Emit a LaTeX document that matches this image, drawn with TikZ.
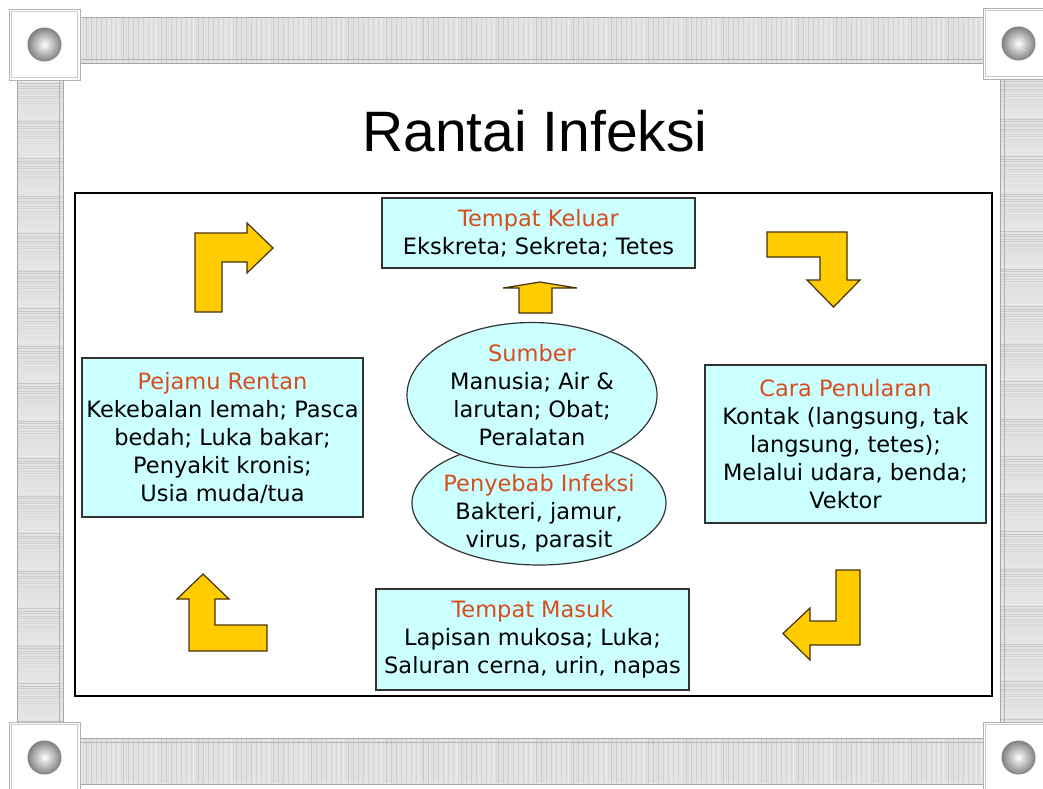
\documentclass[tikz,border=0pt]{standalone}
\usepackage{fontspec}
\setmainfont{DejaVu Sans}
\newfontfamily\judulfont{Liberation Sans}
\usetikzlibrary{shapes.geometric}
\definecolor{kotakbiru}{RGB}{204,255,255}
\definecolor{judulmerah}{RGB}{214,78,30}
\definecolor{panahkuning}{RGB}{255,204,0}
\definecolor{panahgaris}{RGB}{70,50,10}
\tikzset{
teks/.style={align=center,inner sep=0,font=\fontsize{22.5}{28}\selectfont},
kotak/.style={teks,draw=black!80,line width=2,fill=kotakbiru},
oval/.style={teks,ellipse,draw=black!80,line width=1.2,fill=kotakbiru},
panah/.style={draw=panahgaris,line width=1.2,fill=panahkuning,line join=miter},
pojok/.style={draw=black!30,line width=1,fill=white},
lajur/.style={draw=black!35,line width=0.8},
}
\newcommand{\judul}[1]{\textcolor{judulmerah}{#1}}

\begin{document}
\begin{tikzpicture}[x=1pt,y=-1pt]
\useasboundingbox (0,0) rectangle (1043,788);
\fill[white] (0,0) rectangle (1043,788);
\fill[black!11] (80,17) rectangle (983,63);
\fill[black!11] (80,738) rectangle (983,784);
\fill[black!11] (17,80) rectangle (63,722);
\fill[black!11] (1000,78) rectangle (1046,722);
\foreach \i in {0,...,360}{
\pgfmathtruncatemacro\warna{8+mod(\i*37,15)}
\draw[black!\warna,line width=0.9] ({81+2.5*\i},18) -- ({81+2.5*\i},62);
\draw[black!\warna,line width=0.9] ({81+2.5*\i},739) -- ({81+2.5*\i},783);
}
\foreach \i in {0,...,256}{
\pgfmathtruncatemacro\warna{8+mod(\i*29,15)}
\draw[black!\warna,line width=0.9] (18,{81+2.5*\i}) -- (62,{81+2.5*\i});
\draw[black!\warna,line width=0.9] (1001,{79+2.5*\i}) -- (1045,{79+2.5*\i});
}
\draw[lajur] (80,17) rectangle (983,63);
\draw[lajur] (80,738) rectangle (983,784);
\draw[lajur] (17,80) rectangle (63,722);
\draw[lajur] (1000,78) rectangle (1046,722);
\draw[black!30] (80,59) -- (983,59);
\draw[black!30] (80,742) -- (983,742);
\draw[black!30] (59,80) -- (59,722);
\draw[black!30] (1004,78) -- (1004,722);
\foreach \cx/\cy in {44.5/44.5,1018.5/43.5,44.5/757.5,1018.5/757.5}{
\draw[pojok] (\cx-35.5,\cy-35.5) rectangle (\cx+35.5,\cy+35.5);
\draw[black!20] (\cx-33,\cy-33) rectangle (\cx+33,\cy+33);
\shade[inner color=white,outer color=black!50] (\cx,\cy) circle (17);
}
\draw[line width=1.5] (75,193) rectangle (992,696);
\node[font=\judulfont\fontsize{57}{60}\selectfont,anchor=base] (judul) at (535,151) {Rantai Infeksi};
\node[kotak,minimum width=313,minimum height=70] (keluar) at (538.5,233) {\judul{Tempat Keluar}\\Ekskreta; Sekreta; Tetes};
\node[kotak,minimum width=281,minimum height=159] (pejamu) at (222.5,437.5) {\judul{Pejamu Rentan}\\Kekebalan lemah; Pasca\\bedah; Luka bakar;\\Penyakit kronis;\\Usia muda/tua};
\node[kotak,minimum width=281,minimum height=158] (cara) at (845.5,444) {\judul{Cara Penularan}\\Kontak (langsung, tak\\langsung, tetes);\\Melalui udara, benda;\\Vektor};
\node[kotak,minimum width=313,minimum height=101] (masuk) at (532.5,639.5) {\judul{Tempat Masuk}\\Lapisan mukosa; Luka;\\Saluran cerna, urin, napas};
\node[oval,minimum width=254,minimum height=124] (penyebab) at (539,503) {};
\node[teks] (penyebabisi) at (539,513) {\judul{Penyebab Infeksi}\\Bakteri, jamur,\\virus, parasit};
\node[oval,minimum width=250,minimum height=145] (sumber) at (532,395) {\judul{Sumber}\\Manusia; Air \&\\larutan; Obat;\\Peralatan};
\draw[panah] (519,313) -- (519,288) -- (503,288) -- (540,282) -- (577,288) -- (552,288) -- (552,313) -- cycle;
\draw[panah] (195,312) -- (195,233) -- (247,233) -- (247,223) -- (273,248) -- (247,273) -- (247,262) -- (222,262) -- (222,312) -- cycle;
\draw[panah] (767,232) -- (847,232) -- (847,280) -- (860,280) -- (833.5,307) -- (807,280) -- (820,280) -- (820,257) -- (767,257) -- cycle;
\draw[panah] (203,574) -- (229,599) -- (215,599) -- (215,625) -- (267,625) -- (267,651) -- (189,651) -- (189,599) -- (177,599) -- cycle;
\draw[panah] (836,570) -- (860,570) -- (860,645) -- (810,645) -- (810,660) -- (783,633.5) -- (810,608) -- (810,621) -- (836,621) -- cycle;
\end{tikzpicture}
\end{document}
